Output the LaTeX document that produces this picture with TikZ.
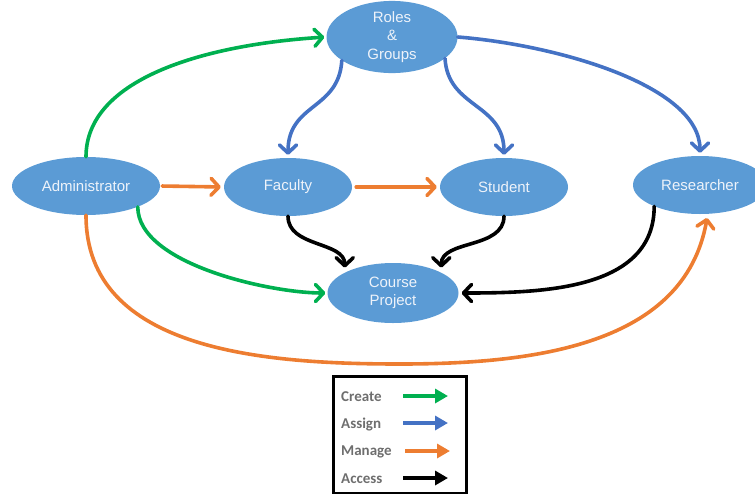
\documentclass[tikz,border=0pt]{standalone}
\usepackage{fontspec}
\setmainfont{Liberation Sans}
\newfontfamily\legendfont{Carlito}
\usetikzlibrary{shapes.geometric,arrows.meta}
\definecolor{nodeblue}{HTML}{5B9BD5}
\definecolor{creategreen}{HTML}{00B050}
\definecolor{assignblue}{HTML}{4472C4}
\definecolor{manageorange}{HTML}{ED7D31}
\definecolor{nodetext}{HTML}{EEF3FA}
\definecolor{legendgray}{HTML}{6E6E6E}

\begin{document}
\begin{tikzpicture}[x=1pt,y=-1pt,
  entity/.style={ellipse, fill=nodeblue, draw=none, inner sep=0pt,
    text=nodetext, font=\fontsize{15}{18.5}\selectfont, align=center},
  link/.style={line width=3.6pt, line cap=round,
    -{Straight Barb[length=8pt,width=17pt,line cap=round,line join=round]}},
  create/.style={link, draw=creategreen},
  assign/.style={link, draw=assignblue},
  manage/.style={link, draw=manageorange},
  access/.style={link, draw=black},
  keyarrow/.style={line width=4pt, -{Triangle[length=13pt,width=14pt]}},
  keytext/.style={anchor=base west, inner sep=0pt, text=legendgray,
    font=\legendfont\bfseries\fontsize{15}{17}\selectfont}
]
\useasboundingbox (0,0) rectangle (755,493);
\clip (0,0) rectangle (755,493);

% entities
\node[entity, minimum width=131pt, minimum height=60pt] (roles) at (392,37) {Roles\\\&\\Groups};
\node[entity, minimum width=148pt, minimum height=58pt] (admin) at (86,186) {Administrator};
\node[entity, minimum width=128pt, minimum height=58pt] (faculty) at (288,187) {Faculty};
\node[entity, minimum width=128pt, minimum height=58pt] (student) at (504,187) {Student};
\node[entity, minimum width=134pt, minimum height=58pt] (researcher) at (700,185) {Researcher};
\node[entity, minimum width=131pt, minimum height=60pt] (course) at (393,293) {Course\\Project};

% create
\draw[create, shorten >=2pt] (admin.north) .. controls +(0,-77) and +(-125,8) .. (roles.west);
\draw[create, shorten >=2pt] (admin.-22) to[out=-90,in=180,looseness=0.7] (course.west);

% assign
\draw[assign, shorten >=3pt] (roles.205) .. controls +(-3,50) and +(0,-55) .. (faculty.north);
\draw[assign, shorten >=3pt] (roles.338) .. controls +(3,50) and +(0,-55) .. (student.north);
\draw[assign, shorten >=3pt] (roles.east) .. controls +(100,8) and +(0,-70) .. (researcher.north);

% manage
\draw[manage, shorten <=2pt, shorten >=3pt] (admin.east) -- (faculty.west);
\draw[manage, shorten <=4pt, shorten >=3pt] (faculty.east) -- (student.west);
\draw[manage, shorten >=4pt] (admin.south) to[out=-90,in=180] (400,364)
  to[out=0,in=-100] (researcher.285);

% access
\draw[access, shorten >=5pt] (faculty.south) to[out=-90,in=90] (course.157);
\draw[access, shorten >=5pt] (student.south) to[out=-90,in=90] (course.23);
\draw[access, shorten >=3pt] (researcher.205) to[out=-90,in=0] (course.east);

% legend
\node[draw=black, line width=3pt, minimum width=133pt, minimum height=117pt,
  inner sep=0pt] (legend) at (400,434.5) {};
\node[keytext] (kcreate) at (341,401) {Create};
\node[keytext] (kassign) at (341,428) {Assign};
\node[keytext] (kmanage) at (341,455.5) {Manage};
\node[keytext] (kaccess) at (341,483) {Access};
\coordinate (c1) at (403,396); \coordinate (c2) at (448,396);
\coordinate (a1) at (403,423); \coordinate (a2) at (448,423);
\coordinate (m1) at (405,451); \coordinate (m2) at (450,451);
\coordinate (x1) at (403,478); \coordinate (x2) at (448,478);
\draw[keyarrow, creategreen] (c1) -- (c2);
\draw[keyarrow, assignblue] (a1) -- (a2);
\draw[keyarrow, manageorange] (m1) -- (m2);
\draw[keyarrow, black] (x1) -- (x2);
\end{tikzpicture}
\end{document}
